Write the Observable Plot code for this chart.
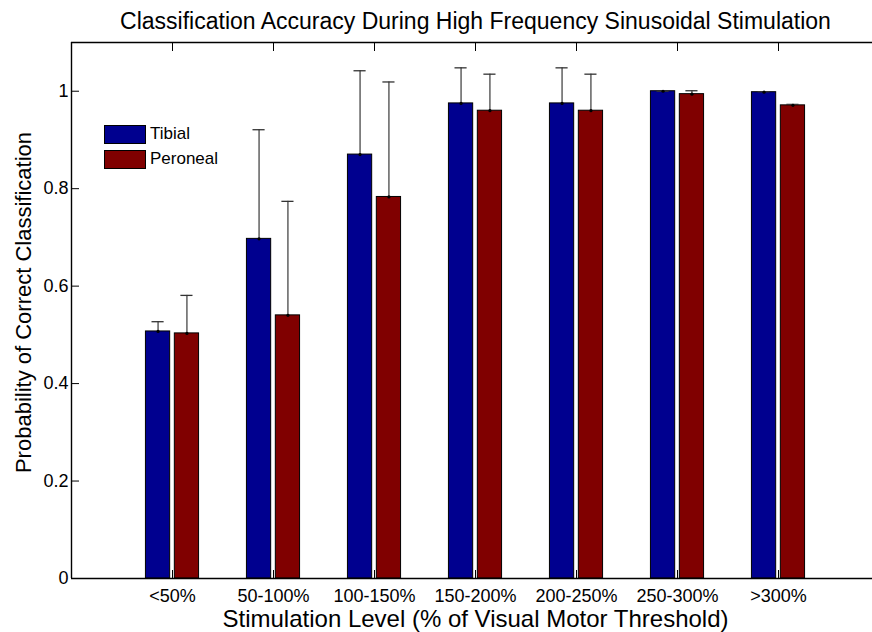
<!DOCTYPE html>
<html><head><meta charset="utf-8">
<script src="https://cdn.jsdelivr.net/npm/d3@7"></script>
<script src="https://cdn.jsdelivr.net/npm/@observablehq/plot@0.6"></script>
<style>
body{margin:0;background:#fff;}
#wrap{position:relative;width:872px;height:632px;font-family:"Liberation Sans",Arial,Helvetica,sans-serif;}
.leg{position:absolute;left:104px;font-size:17px;display:flex;align-items:center;color:#000;}
.sw{width:42px;height:19px;box-sizing:border-box;border:1px solid #000;margin-right:4px;}
</style></head><body><div id="wrap"></div>
<script>
const categories = ["<50%", "50-100%", "100-150%", "150-200%", "200-250%", "250-300%", ">300%"];
const seriesNames = ["Tibial", "Peroneal"];
const tibial     = [0.507, 0.697, 0.870, 0.975, 0.975, 1.000, 0.998];
const tibialSD   = [0.020, 0.224, 0.172, 0.073, 0.073, 0.000, 0.001];
const peroneal   = [0.503, 0.540, 0.783, 0.960, 0.960, 0.994, 0.971];
const peronealSD = [0.078, 0.234, 0.236, 0.075, 0.075, 0.007, 0.002];
const yTicks = [0, 0.2, 0.4, 0.6, 0.8, 1];
const titleText = "Classification Accuracy During High Frequency Sinusoidal Stimulation";
const xLabelText = "Stimulation Level (% of Visual Motor Threshold)";
const yLabelText = "Probability of Correct Classification";
const colors = ["#00008f", "#800000"];

const xTicks = categories.map((c, i) => i + 1);
const rows = categories.flatMap((c, i) => [
  {cat: c, pos: i + 1, series: "Tibial", value: tibial[i], sd: tibialSD[i], off: -1},
  {cat: c, pos: i + 1, series: "Peroneal", value: peroneal[i], sd: peronealSD[i], off: 1}
]);
const shift = 0.143, half = 0.12, cap = 0.06;
const cx = d => d.pos + d.off * shift;
const font = '"Liberation Sans", Arial, Helvetica, sans-serif';

const chart = Plot.plot({
  width: 872, height: 632,
  marginLeft: 71, marginRight: -7, marginTop: 42, marginBottom: 54,
  style: {fontFamily: font, fontSize: "18px", background: "white", color: "#000", overflow: "visible"},
  x: {type: "linear", domain: [0, 8], range: [71, 879]},
  y: {type: "linear", domain: [0, 1.1], range: [578, 42]},
  color: {domain: seriesNames, range: colors},
  marks: [
    Plot.rectY(rows, {x1: d => cx(d) - half, x2: d => cx(d) + half, y1: 0, y2: "value", fill: "series", stroke: "#000", strokeWidth: 1}),
    Plot.ruleX(rows, {x: cx, y1: "value", y2: d => d.value + d.sd, stroke: "#111", strokeWidth: 1}),
    Plot.ruleY(rows, {y: d => d.value + d.sd, x1: d => cx(d) - cap, x2: d => cx(d) + cap, stroke: "#333", strokeWidth: 1.3}),
    Plot.dot(rows, {x: cx, y: "value", r: 1.6, fill: "#000"}),
    Plot.ruleX([0, 8], {stroke: "#000", strokeWidth: 1.4}),
    Plot.ruleY([0, 1.1], {stroke: "#000", strokeWidth: 1.4}),
    Plot.axisX(xTicks, {anchor: "bottom", tickSize: -8, tickPadding: 19, tickFormat: d => categories[d - 1], label: null, fontSize: 18}),
    Plot.axisX(xTicks, {anchor: "top", tickSize: -8, tickFormat: () => "", label: null}),
    Plot.axisY(yTicks, {anchor: "left", tickSize: -8, tickPadding: 11, tickFormat: d => String(d), label: null, fontSize: 18}),
    Plot.axisY(yTicks, {anchor: "right", tickSize: -8, tickFormat: () => "", label: null}),
    Plot.text([titleText], {text: d => d, frameAnchor: "top", lineAnchor: "middle", dy: -21, fontSize: 23, fill: "#000"}),
    Plot.text([xLabelText], {text: d => d, frameAnchor: "bottom", lineAnchor: "middle", dy: 41, fontSize: 24, fill: "#000"}),
    Plot.text([yLabelText], {text: d => d, frameAnchor: "left", lineAnchor: "middle", textAnchor: "middle", rotate: -90, dx: -48, dy: -8, fontSize: 22, fill: "#000"})
  ]
});
const wrap = document.getElementById("wrap");
wrap.appendChild(chart);
seriesNames.forEach((name, i) => {
  const el = document.createElement("div");
  el.className = "leg";
  el.style.top = (124 + i * 25) + "px";
  el.innerHTML = `<div class="sw" style="background:${colors[i]}"></div><span>${name}</span>`;
  wrap.appendChild(el);
});
</script></body></html>
